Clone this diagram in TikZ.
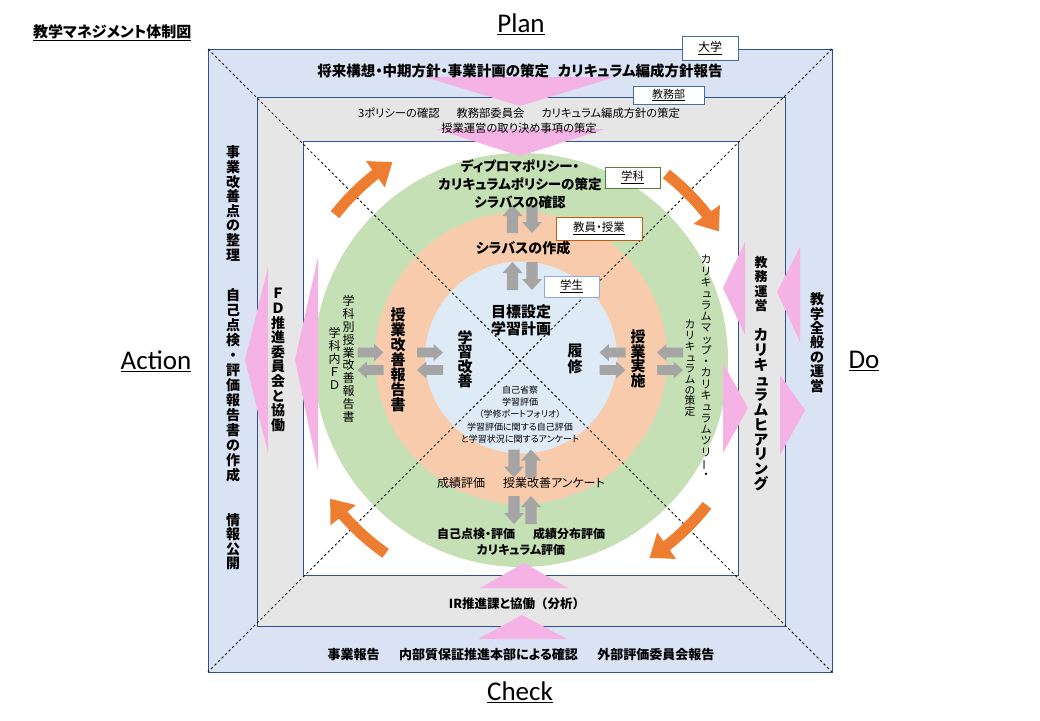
\documentclass[tikz,border=0pt]{standalone}
\usepackage{fontspec}
\setmainfont{Noto Sans CJK JP}[RawFeature=+palt]
\newfontfamily\lat{Carlito}
\newfontfamily\fullw{Noto Sans CJK JP}
\usetikzlibrary{arrows.meta,bending}
\makeatletter
\newcommand\vstk[2]{\vbox{\fullw\baselineskip=#1\lineskiplimit=-\maxdimen\lineskip=0pt\@tfor\vch:=#2\do{\hbox to 1em{\hss\vch\hss}}}}
\makeatother
\newcommand\vbar{\rotatebox[origin=c]{90}{ー}}
\newcommand\sk[1]{\kern0.1em#1\kern-0.1em}
\newcommand\fs[1]{\fontsize{#1}{#1}\selectfont}
\newcommand\garr[5]{\fill[garrowc, shift={(#1,#2)}, rotate=#3] (-#4/2,-#5*0.28) -- (#4/2-#5*0.55,-#5*0.28) -- (#4/2-#5*0.55,-#5/2) -- (#4/2,0) -- (#4/2-#5*0.55,#5/2) -- (#4/2-#5*0.55,#5*0.28) -- (-#4/2,#5*0.28) -- cycle;}
\definecolor{bandblue}{HTML}{DAE3F3}
\definecolor{bandgray}{HTML}{E7E6E6}
\definecolor{cgreen}{HTML}{C5E0B4}
\definecolor{corange}{HTML}{F8CBAD}
\definecolor{cblue}{HTML}{DEEBF7}
\definecolor{cpink}{RGB}{245,178,229}
\definecolor{frameblue}{HTML}{2F528F}
\definecolor{arrowor}{HTML}{ED7D31}
\definecolor{garrowc}{HTML}{A5A5A5}
\definecolor{lblblue}{HTML}{41719C}
\definecolor{lblgreen}{HTML}{548235}
\definecolor{lblorange}{HTML}{C55A11}
\definecolor{lbllight}{HTML}{8FAADC}
\tikzset{
  frame/.style={draw=frameblue, line width=1pt},
  diag/.style={draw=black, line width=0.8pt, dash pattern=on 2.5pt off 2.5pt},
  pinktri/.style={fill=cpink, draw=none},
  oarrow/.style={draw=arrowor, line width=11pt, -{Triangle[length=21pt,width=31pt]}},
  txt/.style={inner sep=0pt, align=center},
  lbl/.style={fill=white, line width=1pt, inner sep=0pt},
  ttl/.style={inner sep=0pt, font=\lat\fontsize{27}{27}\selectfont},
}
\begin{document}
\begin{tikzpicture}[x=1pt,y=-1pt]
\useasboundingbox[fill=white] (0,0) rectangle (1040,720);
% frames
\coordinate (oNW) at (208,49); \coordinate (oSE) at (832,672);
\coordinate (oNE) at (832,49); \coordinate (oSW) at (208,672);
\draw[frame, fill=bandblue] (oNW) rectangle (oSE);
\draw[frame, fill=bandgray] (257,97) rectangle (785,626);
\draw[frame, fill=white] (303,141) rectangle (738,575);
% circles
\coordinate (ctr) at (521,360);
\fill[cgreen] (ctr) circle[radius=207pt];
\fill[corange] (521,358) circle[radius=146pt];
\fill[cblue] (521,357.5) circle[radius=96pt];
% diagonals
\draw[diag] (oNW) -- (oSE);
\draw[diag] (oNE) -- (oSW);
% pink arrows
\fill[pinktri] (425,77) -- (615,77) -- (520,106) -- cycle;
\fill[pinktri] (436,129) -- (605,129) -- (520,156) -- cycle;
\fill[pinktri] (480,588) -- (568,588) -- (524,563) -- cycle;
\fill[pinktri] (478,639) -- (567,639) -- (522,615) -- cycle;
\fill[pinktri] (268,267) -- (268,453) -- (245,360) -- cycle;
\fill[pinktri] (318,257) -- (318,470) -- (295,360) -- cycle;
\fill[pinktri] (745,242) -- (745,335) -- (723,288) -- cycle;
\fill[pinktri] (800,247) -- (800,342) -- (777,292) -- cycle;
\fill[pinktri] (723,363) -- (723,453) -- (748,408) -- cycle;
\fill[pinktri] (780,375) -- (780,455) -- (805,410) -- cycle;
% orange cycle arrows
\draw[oarrow] ([shift={(-142:236)}]ctr) arc[start angle=-142,end angle=-123,radius=236];
\draw[oarrow] ([shift={(-52:236)}]ctr) arc[start angle=-52,end angle=-33,radius=236];
\draw[oarrow] ([shift={(38:236)}]ctr) arc[start angle=38,end angle=57,radius=236];
\draw[oarrow] ([shift={(125:236)}]ctr) arc[start angle=125,end angle=144,radius=236];
% gray arrows
\garr{512.5}{219}{90}{28}{20}
\garr{532}{219}{-90}{28}{20}
\garr{512.5}{276}{90}{28}{20}
\garr{532}{276}{-90}{28}{20}
\garr{514}{463.5}{-90}{28}{20}
\garr{531}{463.5}{90}{28}{20}
\garr{514}{510}{-90}{28}{20}
\garr{531}{510}{90}{28}{20}
\garr{370.5}{352.5}{0}{26}{17}
\garr{370.5}{370}{180}{26}{17}
\garr{430}{352.5}{0}{26}{17}
\garr{430}{370}{180}{26}{17}
\garr{612.5}{352.5}{180}{26}{17}
\garr{612.5}{370}{0}{26}{17}
\garr{670}{352.5}{180}{26}{17}
\garr{670}{370}{0}{26}{17}
% label boxes
\node[lbl, draw=lblblue, minimum width=56pt, minimum height=24pt, font=\fs{12}] (daigaku) at (710,48) {\underline{大学}};
\node[lbl, draw=lblblue, minimum width=71pt, minimum height=18pt, font=\fs{11}] (kyomubu) at (668.5,95) {\underline{教務部}};
\node[lbl, draw=lblgreen, minimum width=55pt, minimum height=21pt, font=\fs{11.5}] (gakka) at (632.5,177.5) {\underline{学科}};
\node[lbl, draw=lblorange, minimum width=86pt, minimum height=23pt, font=\fs{11.5}] (kyoin) at (599,228.5) {\underline{教員・授業}};
\node[lbl, draw=lbllight, minimum width=55pt, minimum height=21pt, font=\fs{11.5}] (gakusei) at (571.5,286.5) {\underline{学生}};
% titles
\node[txt, anchor=west, font=\bfseries\fs{15}] (title) at (33,33) {\underline{教学マネジメント体制図}};
\node[ttl] (plan) at (521,24) {\underline{Plan}};
\node[ttl] (do) at (864,361) {\underline{Do}};
\node[ttl] (action) at (156,361) {\underline{Action}};
\node[ttl] (check) at (520,692) {\underline{Check}};
% horizontal texts
\node[txt, font=\bfseries\fs{14.5}] (t1) at (520,71) {将来構想・中期方針・事業計画の策定\hspace{0.6em}カリキュラム編成方針報告};
\node[txt, font=\fontsize{11.3}{15}\selectfont] (t2) at (519,120.5) {3ポリシーの確認\hspace{1.5em}教務部委員会\hspace{1.5em}カリキュラム編成方針の策定\\授業運営の取り決め事項の策定};
\node[txt, font=\bfseries\fontsize{13.5}{18}\selectfont] (t3) at (520,184) {ディプロマポリシー・\\カリキュラムポリシーの策定\\シラバスの確認};
\node[txt, font=\bfseries\fs{14}] (t4) at (523,248) {シラバスの作成};
\node[txt, font=\bfseries\fontsize{15}{17}\selectfont] (t5) at (521,320.5) {目標設定\\学習計画};
\node[txt, font=\fontsize{9}{12.2}\selectfont] (t6) at (520,414.5) {自己省察\\学習評価\\（学修ポートフォリオ）\\学習評価に関する自己評価\\と学習状況に関するアンケート};
\node[txt, font=\fs{12}] (t7) at (521,483) {成績評価\hspace{1.5em}授業改善アンケート};
\node[txt, font=\bfseries\fontsize{12}{16}\selectfont] (t8) at (521,542) {自己点検・評価\hspace{1.5em}成績分布評価\\カリキュラム評価};
\node[txt, font=\bfseries\fs{12.5}] (t9) at (517,604) {IR推進課と協働{\fullw\bfseries （}分析{\fullw\bfseries ）}};
\node[txt, font=\bfseries\fs{13}] (t10) at (521,655) {事業報告\hspace{1.5em}内部質保証推進本部による確認\hspace{1.5em}外部評価委員会報告};
% vertical texts
\node[txt, font=\bfseries\fs{14}] (v1) at (233,203.5) {\vstk{14.6pt}{事業改善点の整理}};
\node[txt, font=\bfseries\fs{14}] (v2) at (233,385) {\vstk{15pt}{自己点検・評価報告書の作成}};
\node[txt, font=\bfseries\fs{14}] (v3) at (233,541.5) {\vstk{14.5pt}{情報公開}};
\node[txt, font=\bfseries\fs{14}] (v4) at (278,360) {\vstk{14.6pt}{ＦＤ推進委員会と協働}};
\node[txt, font=\fs{12}] (v5) at (348.5,359) {\vstk{12.8pt}{学科別授業改善報告書}};
\node[txt, font=\fs{12}] (v6) at (334.5,358) {\vstk{13pt}{学科内ＦＤ}};
\node[txt, font=\bfseries\fs{15}] (v7) at (398,359.5) {\vstk{15pt}{授業改善報告書}};
\node[txt, font=\bfseries\fs{15}] (v8) at (465,359) {\vstk{14.5pt}{学習改善}};
\node[txt, font=\bfseries\fs{15}] (v9) at (575,359) {\vstk{16pt}{履修}};
\node[txt, font=\bfseries\fs{15}] (v10) at (638,359) {\vstk{14.5pt}{授業実施}};
\node[txt, font=\fs{11}] (v11) at (706,367) {\vstk{11.3pt}{カリキ{\sk ュ}ラムマ{\sk ッ}プ・カリキ{\sk ュ}ラムツリ\vbar・}};
\node[txt, font=\fs{10.8}] (v12) at (690,368.5) {\vstk{10.9pt}{カリキ{\sk ュ}ラムの策定}};
\node[txt, font=\bfseries\fs{13}] (v13) at (761,284) {\vstk{14.5pt}{教務運営}};
\node[txt, font=\bfseries\fs{14.8}] (v14) at (761,410) {\vstk{14.9pt}{カリキ{\sk ュ}ラムヒアリング}};
\node[txt, font=\bfseries\fs{14}] (v15) at (817,342.5) {\vstk{14.4pt}{教学全般の運営}};
\end{tikzpicture}
\end{document}
